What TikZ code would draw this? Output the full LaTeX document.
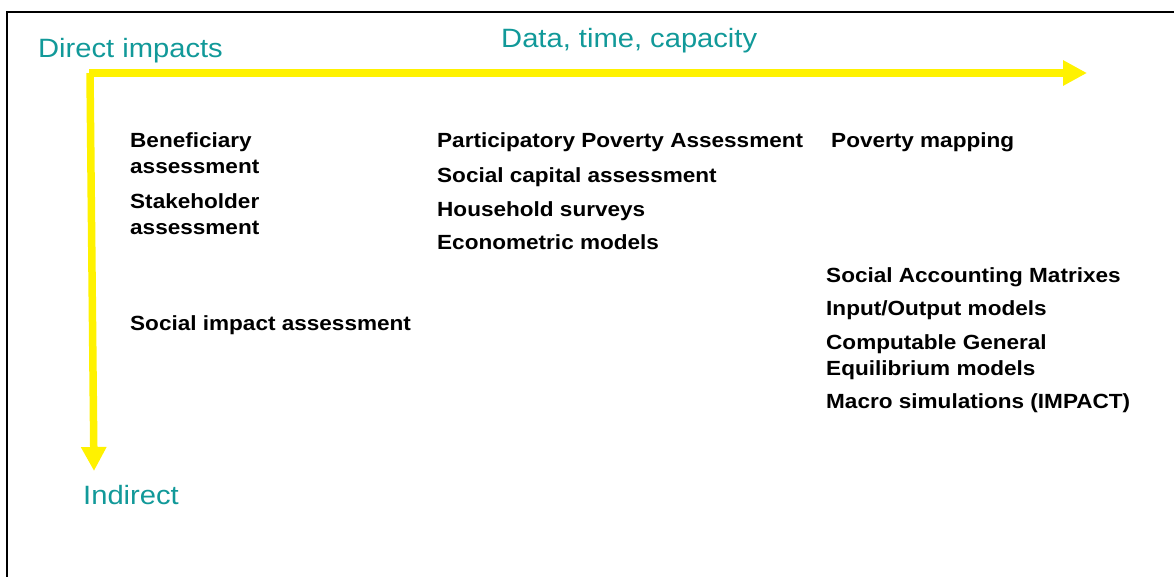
\documentclass[tikz,border=0pt]{standalone}
\usepackage{fontspec}
\setmainfont{Liberation Sans}[FakeStretch=1.1]
\usetikzlibrary{arrows.meta}
\definecolor{tealtext}{RGB}{17,153,153}
\begin{document}
\begin{tikzpicture}[x=1pt, y=-1pt,
    method/.style={anchor=base west, inner sep=0pt, align=left, font=\bfseries\fontsize{20.5}{26}\selectfont},
    axislabel/.style={anchor=base west, inner sep=0pt, text=tealtext, font=\fontsize{26.5}{30}\selectfont},
    axisarrow/.style={draw=yellow, line width=7.5pt, -{Triangle[length=24pt, width=24pt]}}]
    \useasboundingbox (0, 0) rectangle (1174, 576);

    \draw[line width=2pt] (1180, 12) -- (7, 12) -- (7, 580);

    \coordinate (corner) at (89, 73);
    \coordinate (xtip) at (1087, 73);
    \coordinate (ytop) at (90, 73);
    \coordinate (ytip) at (94, 471);
    \draw[axisarrow] (corner) -- (xtip);
    \draw[axisarrow] (ytop) -- (ytip);

    \node[axislabel] (direct) at (38, 57) {Direct impacts};
    \node[axislabel] (data) at (501, 47) {Data, time, capacity};
    \node[axislabel] (indirect) at (83, 504) {Indirect};

    % two-line nodes sit on the baseline of their last line
    \node[method] (benef) at (130, 173) {Beneficiary\\assessment};
    \node[method] (stake) at (130, 234) {Stakeholder\\assessment};
    \node[method] (sia) at (130, 330) {Social impact assessment};

    \node[method] (ppa) at (437, 147) {Participatory Poverty Assessment};
    \node[method] (sca) at (437, 182) {Social capital assessment};
    \node[method] (hhs) at (437, 216) {Household surveys};
    \node[method] (econ) at (437, 249) {Econometric models};

    \node[method] (pmap) at (831, 147) {Poverty mapping};
    \node[method] (sam) at (826, 282) {Social Accounting Matrixes};
    \node[method] (io) at (826, 315) {Input/Output models};
    \node[method] (cge) at (826, 375) {Computable General\\Equilibrium models};
    \node[method] (macro) at (826, 408) {Macro simulations (IMPACT)};
\end{tikzpicture}
\end{document}
